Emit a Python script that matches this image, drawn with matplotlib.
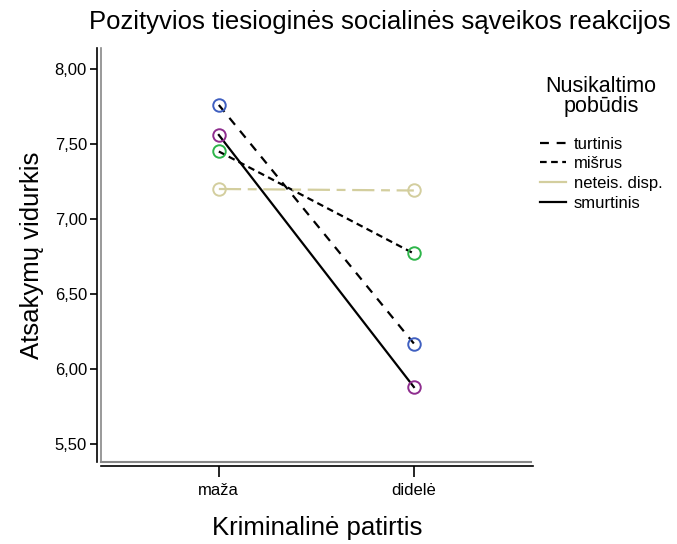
import matplotlib
matplotlib.use('Agg')
import matplotlib.pyplot as plt
from matplotlib.lines import Line2D

plt.rcParams['font.family'] = ['Liberation Sans', 'DejaVu Sans']

# Data
categories = ['maža', 'didelė']
groups = ['turtinis', 'mišrus', 'neteis. disp.', 'smurtinis']
turtinis = [7.76, 6.17]
misrus = [7.45, 6.77]
neteis_disp = [7.20, 7.19]
smurtinis = [7.56, 5.88]
y_ticks = [5.5, 6.0, 6.5, 7.0, 7.5, 8.0]

series = [turtinis, misrus, neteis_disp, smurtinis]
line_colors = ['black', 'black', '#D3CE9E', 'black']
marker_colors = ['#3F5FC0', '#2DB54A', '#D3CE9E', '#8E2D8E']
line_styles = [(0, (4, 3.5)), (0, (3, 2)), (0, (10, 3, 4, 3)), '-']

fig = plt.figure(figsize=(6.77, 5.44), dpi=100)
ax = fig.add_axes([0.149, 0.1507, 0.638, 0.7611])

for s in ['top', 'right']:
    ax.spines[s].set_visible(False)
for s in ['left', 'bottom']:
    ax.spines[s].set_position(('outward', 3))
    ax.spines[s].set_linewidth(1.2)

x = [0, 1]
for vals, lc, mc, ls in zip(series, line_colors, marker_colors, line_styles):
    ax.plot(x, vals, color=lc, linestyle=ls, linewidth=1.6, zorder=2)
    ax.plot(x, vals, linestyle='none', marker='o', markersize=9,
            markerfacecolor='none', markeredgecolor=mc, markeredgewidth=1.4, zorder=3)

ax.set_xlim(-0.605, 1.61)
ax.set_ylim(5.38, 8.14)
ax.set_xticks(x)
ax.set_xticklabels(categories)
ax.set_yticks(y_ticks)
ax.set_yticklabels([('%.2f' % v).replace('.', ',') for v in y_ticks])
ax.tick_params(axis='y', length=5, width=1.2, pad=2, labelsize=12)
ax.tick_params(axis='x', length=8, width=1.2, pad=4, labelsize=12)

# inner grey frame lines
ax.plot([0, 0], [0, 1], transform=ax.transAxes, color='#888888', linewidth=1.2, clip_on=False)
ax.plot([0, 0.995], [0, 0], transform=ax.transAxes, color='#888888', linewidth=1.5, clip_on=False)

ax.set_xlabel('Kriminalinė patirtis', fontsize=18.5, labelpad=13)
ax.set_ylabel('Atsakymų vidurkis', fontsize=18.5, labelpad=8)
fig.text(0.561, 0.96, 'Pozityvios tiesioginės socialinės sąveikos reakcijos',
         ha='center', va='center', fontsize=18.5)

handles = [Line2D([], [], color=lc, linestyle=ls, linewidth=1.6)
           for lc, ls in zip(line_colors, line_styles)]
handles[2] = Line2D([], [], color=line_colors[2], linewidth=1.6)
leg = fig.legend(handles, groups, title='Nusikaltimo\npobūdis', loc='upper left',
                 bbox_to_anchor=(0.78, 0.882), frameon=False, fontsize=12,
                 title_fontsize=15.5, handlelength=1.6, handletextpad=0.45,
                 labelspacing=0.28, borderpad=0.2)
leg.get_title().set_multialignment('center')
leg.get_title().set_linespacing(0.95)
leg._legend_box.sep = 14

fig.savefig('out.png', dpi=100)
